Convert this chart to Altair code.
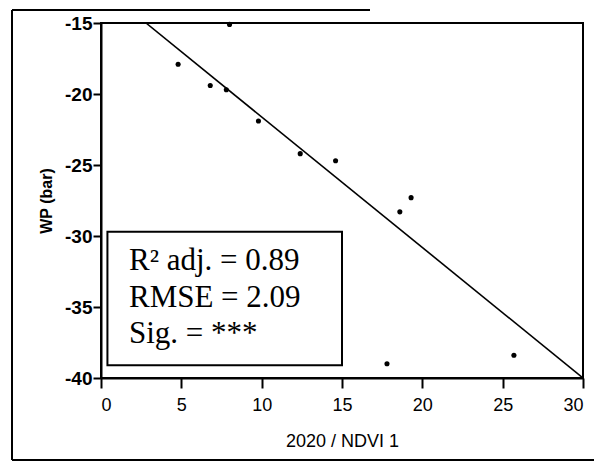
import altair as alt
import pandas as pd

ndvi = [4.8, 6.8, 7.8, 9.8, 12.4, 14.6, 18.6, 19.3, 8.0, 17.8, 25.7]
wp = [-17.9, -19.4, -19.7, -21.9, -24.2, -24.7, -28.3, -27.3, -15.1, -39.0, -38.4]

# Fitted regression line (endpoints where it meets the frame)
fit_x = [2.8, 30.0]
fit_y = [-15.0, -40.0]

# Statistics box
stats_lines = ["R\u00b2 adj. = 0.89", "RMSE = 2.09", "Sig. = ***"]
stats_y = [-32.4, -35.0, -37.5]
stats_x = [1.74, 1.74, 1.74]
box_x = [0.4]
box_x2 = [15.0]
box_y = [-29.7]
box_y2 = [-39.1]

x_ticks = [0, 5, 10, 15, 20, 25, 30]
y_ticks = [-40, -35, -30, -25, -20, -15]

pts = pd.DataFrame({"x": ndvi, "y": wp})
fit = pd.DataFrame({"x": fit_x, "y": fit_y})
txt = pd.DataFrame({"x": stats_x, "y": stats_y, "t": stats_lines})
box = pd.DataFrame({"x": box_x, "x2": box_x2, "y": box_y, "y2": box_y2})
one = pd.DataFrame({"a": [0]})

xs = alt.Scale(domain=[0, 30], nice=False, zero=False)
ys = alt.Scale(domain=[-40, -15], nice=False, zero=False)

xaxis = alt.Axis(values=x_ticks, title="2020 / NDVI 1", grid=False,
                 tickSize=10, labelPadding=8, titlePadding=18,
                 labelFontSize=18, titleFontSize=18, labelFont="Liberation Sans",
                 titleFont="Liberation Sans", titleFontWeight="normal")
yaxis = alt.Axis(values=y_ticks, title="WP (bar)", grid=False,
                 tickSize=8, labelPadding=1, titlePadding=10,
                 labelFontSize=19, labelFontWeight="bold", titleFontSize=16,
                 labelFont="Liberation Sans", titleFont="Liberation Sans",
                 titleFontWeight="bold", labelExpr="'' + datum.value")

base_pts = alt.Chart(pts).mark_circle(color="black", size=26, opacity=1).encode(
    x=alt.X("x:Q", scale=xs, axis=xaxis),
    y=alt.Y("y:Q", scale=ys, axis=yaxis),
)

line = alt.Chart(fit).mark_line(color="black", strokeWidth=1.6, clip=True).encode(
    x=alt.X("x:Q", scale=xs), y=alt.Y("y:Q", scale=ys)
)

rect = alt.Chart(box).mark_rect(fill="white", stroke="black", strokeWidth=2).encode(
    x=alt.X("x:Q", scale=xs), x2="x2:Q", y=alt.Y("y:Q", scale=ys), y2="y2:Q"
)

text = alt.Chart(txt).mark_text(font="Liberation Serif", fontSize=31, align="left",
                                baseline="alphabetic", color="black").encode(
    x=alt.X("x:Q", scale=xs), y=alt.Y("y:Q", scale=ys), text="t:N"
)

# Outer scanned figure frame (decoration)
frame_left = alt.Chart(one).mark_rule(color="black", strokeWidth=2).encode(
    x=alt.value(-89), y=alt.value(-13), y2=alt.value(437))
frame_top = alt.Chart(one).mark_rule(color="black", strokeWidth=2).encode(
    x=alt.value(-89), x2=alt.value(269), y=alt.value(-13))
frame_bottom = alt.Chart(one).mark_rule(color="black", strokeWidth=2).encode(
    x=alt.value(-89), x2=alt.value(500), y=alt.value(437))

chart = alt.layer(rect, line, base_pts, text, frame_left, frame_top, frame_bottom).properties(
    width=482, height=355,
    background="white",
    autosize=alt.AutoSizeParams(type="none"),
    padding={"left": 93, "top": 15, "right": 11, "bottom": 83},
).configure_view(stroke="black", strokeWidth=2).configure_axis(
    domainColor="black", domainWidth=2, tickColor="black", tickWidth=2,
    labelColor="black", titleColor="black"
)

chart.save("out.html", embed_options={"renderer": "svg", "actions": False})
